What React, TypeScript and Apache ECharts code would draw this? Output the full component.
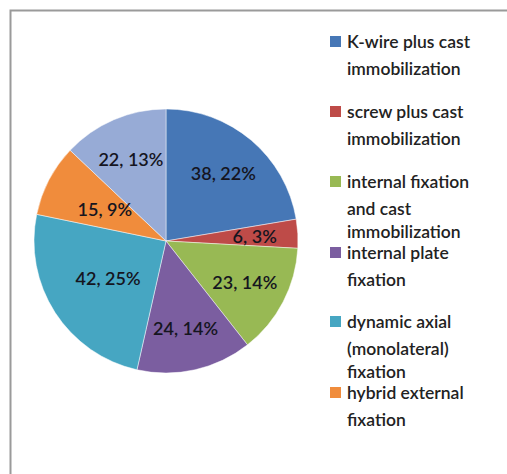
import React, { useEffect, useRef } from "react";
import * as echarts from "echarts";

const categories = [
  "K-wire plus cast\nimmobilization",
  "screw plus cast\nimmobilization",
  "internal fixation\nand cast\nimmobilization",
  "internal plate\nfixation",
  "dynamic axial\n(monolateral)\nfixation",
  "hybrid external\nfixation",
  "other",
];
const values = [38, 6, 23, 24, 42, 15, 22];
const percents = [22, 3, 14, 14, 25, 9, 13];
const colors = ["#4677B6", "#BE4B48", "#98B954", "#7B5EA0", "#46A6C2", "#F08C3C", "#97ABD6"];
const legendCount = 6;
const nearLabels = [4, 5];

export default function App() {
  const ref = useRef<HTMLDivElement>(null);
  useEffect(() => {
    if (!ref.current) return;
    const chart = echarts.init(ref.current, undefined, { renderer: "svg" });
    const cx = 166;
    const cy = 241;
    const r = 132;
    const data = values.map((v, i) => ({
      name: categories[i],
      value: v,
      itemStyle: { color: colors[i] },
    }));
    const labelFmt = (p: any) => `${values[p.dataIndex]}, ${percents[p.dataIndex]}%`;
    const labelStyle = {
      fontFamily: "Lato",
      fontSize: 18,
      fontWeight: 600,
      color: "#15151f",
    };
    const itemTops = [41, 111, 181, 252, 321, 392];
    const lineOffsets = [0, 27, 50];
    const legendGraphics: any[] = [];
    for (let i = 0; i < legendCount; i++) {
      const y = itemTops[i];
      legendGraphics.push({
        type: "rect",
        shape: { x: 330, y: y - 5, width: 11, height: 11 },
        style: { fill: colors[i] },
      });
      categories[i].split("\n").forEach((line, k) => {
        legendGraphics.push({
          type: "text",
          x: 347,
          y: y + lineOffsets[k],
          style: {
            text: line,
            fontFamily: "Lato",
            fontSize: 17.5,
            fontWeight: 600,
            fill: "#222222",
            verticalAlign: "middle",
            align: "left",
          },
        });
      });
    }
    chart.setOption({
      animation: false,
      backgroundColor: "#ffffff",
      graphic: [
        {
          type: "rect",
          shape: { x: 10.5, y: 10.5, width: 520, height: 500 },
          style: { fill: "none", stroke: "#9a9a9a", lineWidth: 2 },
        },
        ...legendGraphics,
      ],
      series: [
        {
          type: "pie",
          center: [cx, cy],
          radius: [0, r],
          startAngle: 90,
          clockwise: true,
          itemStyle: { borderColor: "rgba(255,255,255,0.6)", borderWidth: 0.8 },
          label: {
            show: true,
            position: "inside",
            formatter: (p: any) => (nearLabels.includes(p.dataIndex) ? labelFmt(p) : ""),
            ...labelStyle,
          },
          labelLine: { show: false },
          emphasis: { disabled: true },
          data,
        },
        {
          type: "pie",
          center: [cx, cy],
          radius: [r * 0.52, r * 0.78],
          startAngle: 90,
          clockwise: true,
          silent: true,
          itemStyle: { color: "transparent", borderWidth: 0 },
          label: {
            show: true,
            position: "inside",
            formatter: (p: any) => (nearLabels.includes(p.dataIndex) ? "" : labelFmt(p)),
            ...labelStyle,
          },
          labelLine: { show: false },
          emphasis: { disabled: true },
          data: values.map((v, i) => ({ name: categories[i] + " label", value: v })),
        },
      ],
    });
    return () => chart.dispose();
  }, []);
  return (
    <div
      ref={ref}
      style={{ position: "fixed", left: 0, top: 0, width: 507, height: 474 }}
    />
  );
}
